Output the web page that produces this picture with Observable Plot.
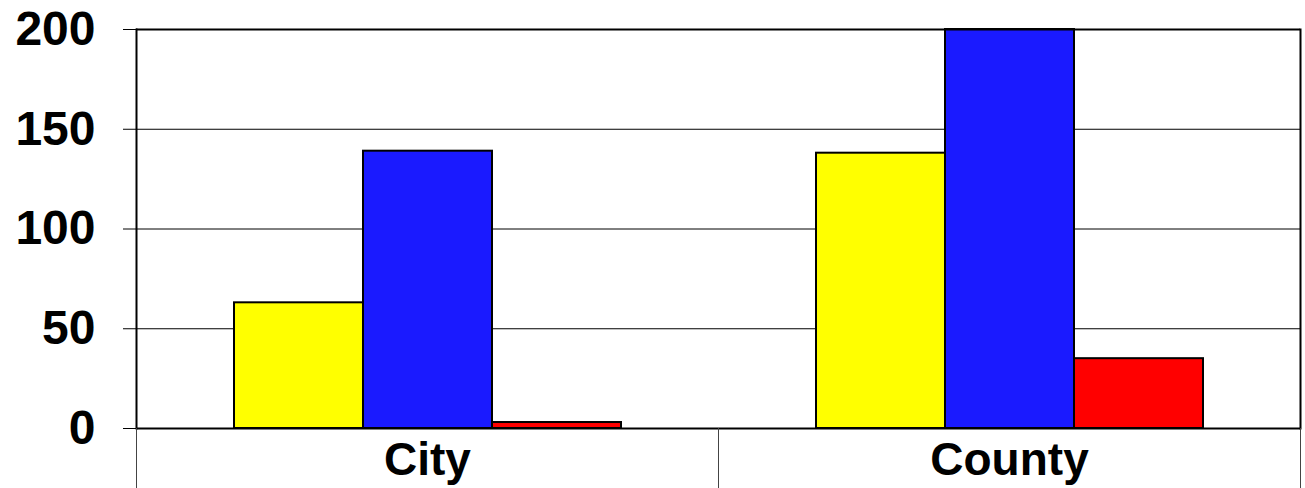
<!DOCTYPE html>
<html>
<head>
<meta charset="utf-8">
<script src="https://cdn.jsdelivr.net/npm/d3@7"></script>
<script src="https://cdn.jsdelivr.net/npm/@observablehq/plot@0.6"></script>
<style>
  html, body { margin: 0; padding: 0; background: #fff; }
  #chart svg { display: block; }
</style>
</head>
<body>
<div id="chart"></div>
<script>
const categories = ["City", "County"];
const seriesNames = ["Series 1", "Series 2", "Series 3"];
const seriesColors = ["#ffff00", "#1a1aff", "#ff0000"];
const cityValues = [63, 139, 3];
const countyValues = [138, 200, 35];
const yTicks = [0, 50, 100, 150, 200];
const gridTicks = [50, 100, 150];

const valuesByCategory = [cityValues, countyValues];
const data = [];
categories.forEach((c, ci) => {
  seriesNames.forEach((s, si) => {
    data.push({category: c, series: s, value: valuesByCategory[ci][si]});
  });
});

const chart = Plot.plot({
  width: 1305,
  height: 488,
  marginLeft: 135,
  marginRight: 5,
  marginTop: 29,
  marginBottom: 60,
  style: {fontFamily: "'Liberation Sans', Arial, sans-serif", background: "#fff", color: "#000"},
  fx: {domain: categories, padding: 0, label: null},
  x: {domain: seriesNames, paddingInner: 0, paddingOuter: 0.74, axis: null},
  y: {domain: [0, 200], label: null},
  color: {domain: seriesNames, range: seriesColors},
  marks: [
    Plot.gridY(gridTicks, {stroke: "#000", strokeOpacity: 1, strokeWidth: 1}),
    Plot.barY(data, {fx: "category", x: "series", y: "value", fill: "series", stroke: "#000", strokeWidth: 2}),
    Plot.ruleY([0, 200], {stroke: "#000", strokeWidth: 2}),
    Plot.frame({anchor: "left", facetAnchor: "left", stroke: "#000", strokeWidth: 2}),
    Plot.frame({anchor: "right", facetAnchor: "right", stroke: "#000", strokeWidth: 2}),
    Plot.frame({anchor: "left", insetTop: 399, insetBottom: -60, stroke: "#444", strokeWidth: 1}),
    Plot.frame({anchor: "right", facetAnchor: "right", insetTop: 399, insetBottom: -60, stroke: "#444", strokeWidth: 1}),
    Plot.axisY({ticks: yTicks, tickSize: 13, tickPadding: 28, fontSize: 48, fontWeight: "bold", label: null, stroke: "#000"}),
    Plot.axisFx({anchor: "bottom", tickSize: 0, tickPadding: 14, fontSize: 46, fontWeight: "bold", label: null})
  ]
});
document.getElementById("chart").appendChild(chart);
</script>
</body>
</html>
